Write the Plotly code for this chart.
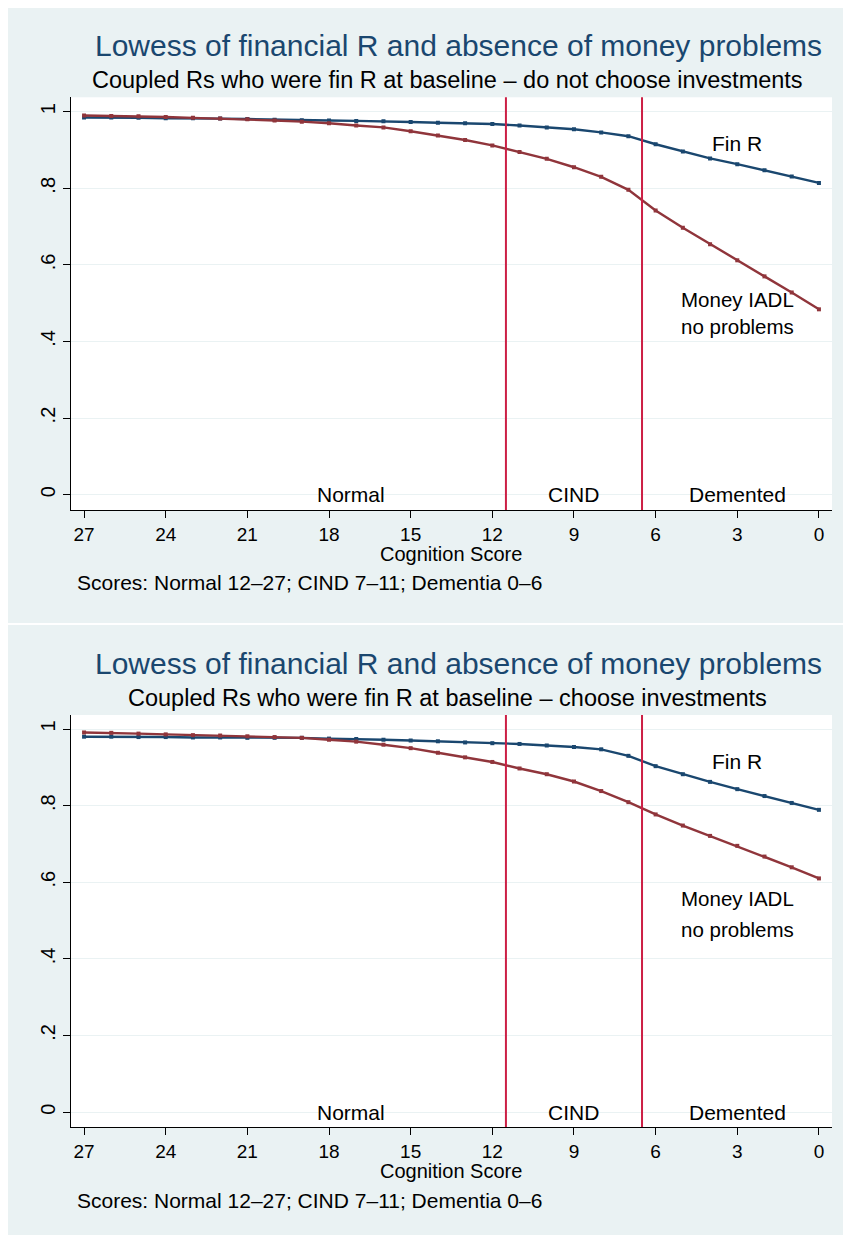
import plotly.graph_objects as go

# ---------------- data ----------------
SCORE = [27, 26, 25, 24, 23, 22, 21, 20, 19, 18, 17, 16, 15, 14,
         13, 12, 11, 10, 9, 8, 7, 6, 5, 4, 3, 2, 1, 0]

# Panel 1: do not choose investments
FIN_R_1 = [0.985, 0.985, 0.984, 0.983, 0.983, 0.982, 0.981, 0.979, 0.978, 0.977,
           0.976, 0.975, 0.973, 0.971, 0.970, 0.968, 0.964, 0.959, 0.954, 0.946,
           0.936, 0.915, 0.896, 0.878, 0.863, 0.847, 0.831, 0.814]
MONEY_1 = [0.990, 0.989, 0.988, 0.986, 0.984, 0.982, 0.980, 0.977, 0.974, 0.970,
           0.964, 0.959, 0.949, 0.938, 0.926, 0.912, 0.895, 0.877, 0.855, 0.830,
           0.796, 0.742, 0.697, 0.654, 0.612, 0.570, 0.528, 0.484]

# Panel 2: choose investments
FIN_R_2 = [0.980, 0.980, 0.979, 0.979, 0.978, 0.978, 0.977, 0.977, 0.977, 0.975,
           0.974, 0.972, 0.970, 0.968, 0.965, 0.963, 0.961, 0.957, 0.953, 0.947,
           0.930, 0.903, 0.882, 0.862, 0.843, 0.825, 0.807, 0.789]
MONEY_2 = [0.991, 0.990, 0.988, 0.986, 0.984, 0.983, 0.981, 0.979, 0.977, 0.972,
           0.967, 0.959, 0.950, 0.938, 0.926, 0.914, 0.897, 0.882, 0.863, 0.838,
           0.809, 0.777, 0.748, 0.721, 0.695, 0.667, 0.639, 0.610]

CUTOFFS = [11.5, 6.5]
X_TICKS = [27, 24, 21, 18, 15, 12, 9, 6, 3, 0]
Y_TICKS = [0, 0.2, 0.4, 0.6, 0.8, 1]
Y_TICK_LABELS = ["0", ".2", ".4", ".6", ".8", "1"]
ZONES = [("Normal", 17.2), ("CIND", 9), ("Demented", 3)]

TITLE = "Lowess of financial R and absence of money problems"
SUBTITLES = ["Coupled Rs who were fin R at baseline \u2013 do not choose investments",
             "Coupled Rs who were fin R at baseline \u2013 choose investments"]
X_TITLE = "Cognition Score"
NOTE = "Scores: Normal 12\u201327; CIND 7\u201311; Dementia 0\u20136"

# ---------------- style ----------------
W, H = 843, 1235
BG = "#EAF2F3"
NAVY = "#1a476f"
MAROON = "#90353b"
VLINE = "#cc1f45"
FONT = "Liberation Sans, Arial, sans-serif"

def px_y(p):
    return 1 - p / H

def px_x(p):
    return p / W

X_DOM = [px_x(71), px_x(832)]
PANELS = [
    {"top": 97.3, "bot": 510, "yr": [-0.040, 1.0376],
     "fin": 0.918, "money": [("Money IADL<br>no problems", 0.474)]},
    {"top": 715, "bot": 1127, "yr": [-0.039, 1.0366],
     "fin": 0.916, "money": [("Money IADL", 0.557), ("no problems", 0.477)]},
]

fig = go.Figure()
annotations = []
shapes = []

for i, (fin, money) in enumerate([(FIN_R_1, MONEY_1), (FIN_R_2, MONEY_2)]):
    xa = "x" if i == 0 else "x2"
    ya = "y" if i == 0 else "y2"
    fig.add_trace(go.Scatter(x=SCORE, y=fin, mode="lines+markers", xaxis=xa, yaxis=ya,
                             line=dict(color=NAVY, width=2.4),
                             marker=dict(color=NAVY, size=4, symbol="square"),
                             showlegend=False, hoverinfo="skip"))
    fig.add_trace(go.Scatter(x=SCORE, y=money, mode="lines+markers", xaxis=xa, yaxis=ya,
                             line=dict(color=MAROON, width=2.4),
                             marker=dict(color=MAROON, size=4, symbol="square"),
                             showlegend=False, hoverinfo="skip"))

    P = PANELS[i]
    dom = [px_y(P["bot"]), px_y(P["top"])]
    axis_common = dict(showline=True, linecolor="black", linewidth=1.3,
                       ticks="outside", ticklen=7, tickcolor="black", tickwidth=1.3,
                       zeroline=False, fixedrange=True)
    fig.layout["xaxis" if i == 0 else "xaxis2"] = dict(
        domain=X_DOM, anchor=ya, range=[27.48, -0.48], tickvals=X_TICKS,
        showgrid=False, tickfont=dict(family=FONT, size=19, color="black"), **axis_common)
    fig.layout["yaxis" if i == 0 else "yaxis2"] = dict(
        domain=dom, anchor=xa, range=P["yr"], tickvals=Y_TICKS, ticktext=Y_TICK_LABELS,
        tickangle=-90, showgrid=True, gridcolor=BG, gridwidth=1.2,
        tickfont=dict(family=FONT, size=20, color="black"), **axis_common)

    for c in CUTOFFS:
        shapes.append(dict(type="line", xref=xa, yref=ya + " domain", x0=c, x1=c, y0=0, y1=1,
                           line=dict(color=VLINE, width=2)))

    for name, xv in ZONES:
        annotations.append(dict(text=name, x=xv, y=0, xref=xa, yref=ya, showarrow=False,
                                xanchor="center", yanchor="middle",
                                font=dict(family=FONT, size=21, color="black")))
    annotations.append(dict(text="Fin R", x=3, y=P["fin"], xref=xa, yref=ya, showarrow=False,
                            xanchor="center", yanchor="middle",
                            font=dict(family=FONT, size=21, color="black")))
    for txt, yv in P["money"]:
        annotations.append(dict(text=txt, x=3, y=yv, xref=xa, yref=ya, showarrow=False,
                                xanchor="center", yanchor="middle", align="left",
                                font=dict(family=FONT, size=20.5, color="black")))

    top = P["top"]
    bot = P["bot"]
    annotations.append(dict(text=TITLE, x=px_x(458), y=px_y(top - 52), xref="paper", yref="paper",
                            showarrow=False, xanchor="center", yanchor="middle",
                            font=dict(family=FONT, size=30, color=NAVY)))
    annotations.append(dict(text=SUBTITLES[i], x=px_x(448), y=px_y(top - 17), xref="paper",
                            yref="paper", showarrow=False, xanchor="center", yanchor="middle",
                            font=dict(family=FONT, size=23.5, color="black")))
    annotations.append(dict(text=X_TITLE, x=px_x(451), y=px_y(bot + 44), xref="paper",
                            yref="paper", showarrow=False, xanchor="center", yanchor="middle",
                            font=dict(family=FONT, size=20, color="black")))
    annotations.append(dict(text=NOTE, x=px_x(75), y=px_y(bot + 73), xref="paper",
                            yref="paper", showarrow=False, xanchor="left", yanchor="middle",
                            font=dict(family=FONT, size=21, color="black")))

# white borders / gap between the two panels
for (x0, x1, y0, y1) in [(0, 8, 0, H), (0, W, 0, 8), (0, W, 623, 625)]:
    shapes.append(dict(type="rect", xref="paper", yref="paper", layer="below",
                       x0=px_x(x0), x1=px_x(x1), y0=px_y(y1), y1=px_y(y0),
                       fillcolor="white", line=dict(width=0)))

fig.update_layout(width=W, height=H, margin=dict(l=0, r=0, t=0, b=0),
                  paper_bgcolor=BG, plot_bgcolor="white",
                  annotations=annotations, shapes=shapes,
                  font=dict(family=FONT), showlegend=False)

fig.write_html("out.html")
